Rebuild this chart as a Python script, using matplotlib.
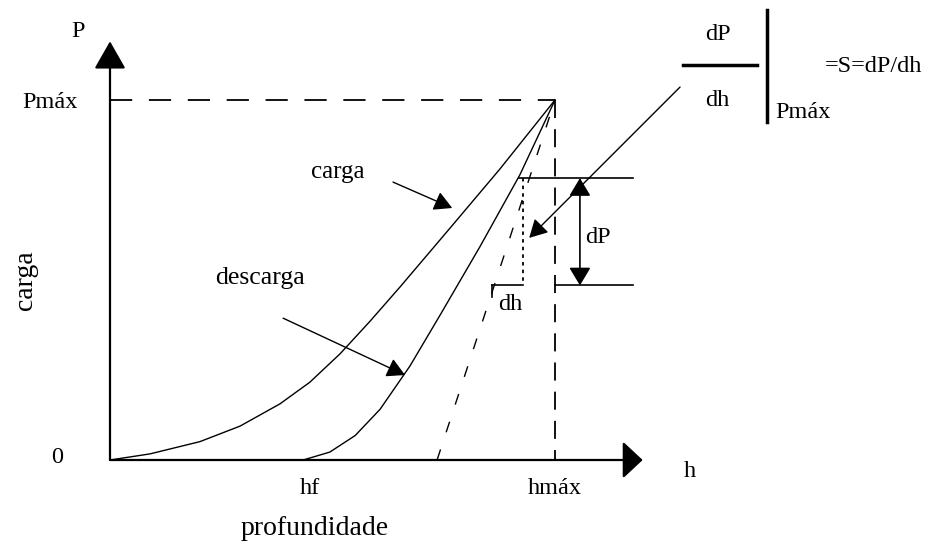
import numpy as np
import matplotlib
matplotlib.use("Agg")
import matplotlib.pyplot as plt

plt.rcParams['font.family'] = ['Liberation Serif', 'DejaVu Serif']
plt.rcParams['lines.scale_dashes'] = False

# load-depth curve, normalised so that hmax = 1 and Pmax = 1
h_carga = [0.0, 0.090, 0.202, 0.292, 0.382, 0.449, 0.517, 0.584, 0.652, 0.764, 0.876, 1.0]
P_carga = [0.0, 0.017, 0.051, 0.094, 0.156, 0.216, 0.295, 0.385, 0.481, 0.644, 0.808, 1.0]

h_descarga = [0.434, 0.494, 0.551, 0.607, 0.674, 0.742, 0.832, 0.921, 1.0]
P_descarga = [0.0, 0.022, 0.068, 0.141, 0.261, 0.403, 0.594, 0.792, 1.0]

hf = 0.434
hmax = 1.0
Pmax = 1.0
h_tangente = [0.735, 1.0]   # tangent to the unloading curve at Pmax
P_tangente = [0.0, 1.0]

P_dP = [0.783, 0.485]       # levels of the dP triangle
h_dh = [0.858, 0.928]       # width of the dh step

fig = plt.figure(figsize=(9.39, 5.45), dpi=100)
ax = fig.add_axes([0, 0, 1, 1])
# origin sits at pixel (110, 460); 445 px per unit of h, 360 px per unit of P
ax.set_xlim(-110 / 445, (939 - 110) / 445)
ax.set_ylim(-(545 - 460) / 360, 460 / 360)
ax.axis('off')

k = 'black'

# axes with arrow heads
ax.annotate('', xy=(1.197, 0), xytext=(0, 0),
            arrowprops=dict(arrowstyle='-|>,head_length=0.62,head_width=0.58',
                            mutation_scale=20, lw=1.6, color=k, shrinkA=0, shrinkB=0))
ax.annotate('', xy=(0, 1.163), xytext=(0, 0),
            arrowprops=dict(arrowstyle='-|>,head_length=0.86,head_width=0.49',
                            mutation_scale=20, lw=1.6, color=k, shrinkA=0, shrinkB=0))

# guide lines to Pmax / hmax
ax.plot([0, hmax], [Pmax, Pmax], color=k, lw=1.3, dashes=(16, 12))
ax.plot([hmax, hmax], [Pmax, 0], color=k, lw=1.3, dashes=(13, 8))

# curves
ax.plot(h_carga, P_carga, color=k, lw=1.0)
ax.plot(h_descarga, P_descarga, color=k, lw=1.0)
ax.plot(h_tangente, P_tangente, color=k, lw=1.0, dashes=(8, 13))

# dP / dh construction
ax.plot([h_dh[0] + 0.06, 1.175], [P_dP[0], P_dP[0]], color=k, lw=1.2)
ax.plot([hmax, 1.175], [P_dP[1], P_dP[1]], color=k, lw=1.2)
ax.plot([h_dh[1], h_dh[1]], [P_dP[0], P_dP[1]], color=k, lw=1.3, dashes=(2.5, 3))
ax.plot([h_dh[0], h_dh[1]], [P_dP[1], P_dP[1]], color=k, lw=1.2)
ax.plot([h_dh[0], h_dh[0]], [P_dP[1], P_dP[1] - 0.032], color=k, lw=1.2)
ax.annotate('', xy=(1.056, P_dP[0]), xytext=(1.056, P_dP[1]),
            arrowprops=dict(arrowstyle='<|-|>,head_length=0.55,head_width=0.33',
                            mutation_scale=20, lw=1.2, color=k, shrinkA=0, shrinkB=0))

# slope pointer from the S expression
ax.annotate('', xy=(0.942, 0.617), xytext=(1.281, 1.036),
            arrowprops=dict(arrowstyle='-|>,head_length=0.55,head_width=0.3',
                            mutation_scale=20, lw=1.0, color=k, shrinkA=0, shrinkB=0))

# labels pointing at the curves
ax.annotate('', xy=(0.769, 0.700), xytext=(0.636, 0.772),
            arrowprops=dict(arrowstyle='-|>,head_length=0.55,head_width=0.3',
                            mutation_scale=20, lw=1.0, color=k, shrinkA=0, shrinkB=0))
ax.annotate('', xy=(0.663, 0.236), xytext=(0.389, 0.394),
            arrowprops=dict(arrowstyle='-|>,head_length=0.55,head_width=0.3',
                            mutation_scale=20, lw=1.0, color=k, shrinkA=0, shrinkB=0))

fs = 17.5
ax.text(0.512, 0.800, 'carga', fontsize=18, ha='center', va='center')
ax.text(0.337, 0.506, 'descarga', fontsize=18.5, ha='center', va='center')
ax.text(1.097, 0.619, 'dP', fontsize=fs, ha='center', va='center')
ax.text(0.899, 0.431, 'dh', fontsize=fs, ha='center', va='center')

# axis texts
ax.text(-0.072, 1.189, 'P', fontsize=fs, ha='center', va='center')
ax.text(-0.135, 0.994, 'Pmáx', fontsize=fs, ha='center', va='center')
ax.text(-0.119, 0.008, '0', fontsize=fs, ha='center', va='center')
ax.text(-0.191, 0.5, 'carga', fontsize=20, ha='center', va='center', rotation=90)
ax.text(hf + 0.015, -0.078, 'hf', fontsize=fs, ha='center', va='center')
ax.text(hmax, -0.078, 'hmáx', fontsize=fs, ha='center', va='center')
ax.text(0.461, -0.189, 'profundidade', fontsize=20, ha='center', va='center')
ax.text(1.303, -0.033, 'h', fontsize=fs, ha='center', va='center')

# S = dP/dh evaluated at Pmax
ax.text(1.366, 1.181, 'dP', fontsize=fs, ha='center', va='center')
ax.plot([1.288, 1.454], [1.097, 1.097], color=k, lw=2.5)
ax.text(1.364, 1.0, 'dh', fontsize=fs, ha='center', va='center')
ax.plot([1.476, 1.476], [1.25, 0.939], color=k, lw=2.5)
ax.text(1.494, 0.964, 'Pmáx', fontsize=fs, ha='left', va='center')
ax.text(1.607, 1.092, '=S=dP/dh', fontsize=fs, ha='left', va='center')

fig.savefig('out.png', dpi=100, facecolor='white')
